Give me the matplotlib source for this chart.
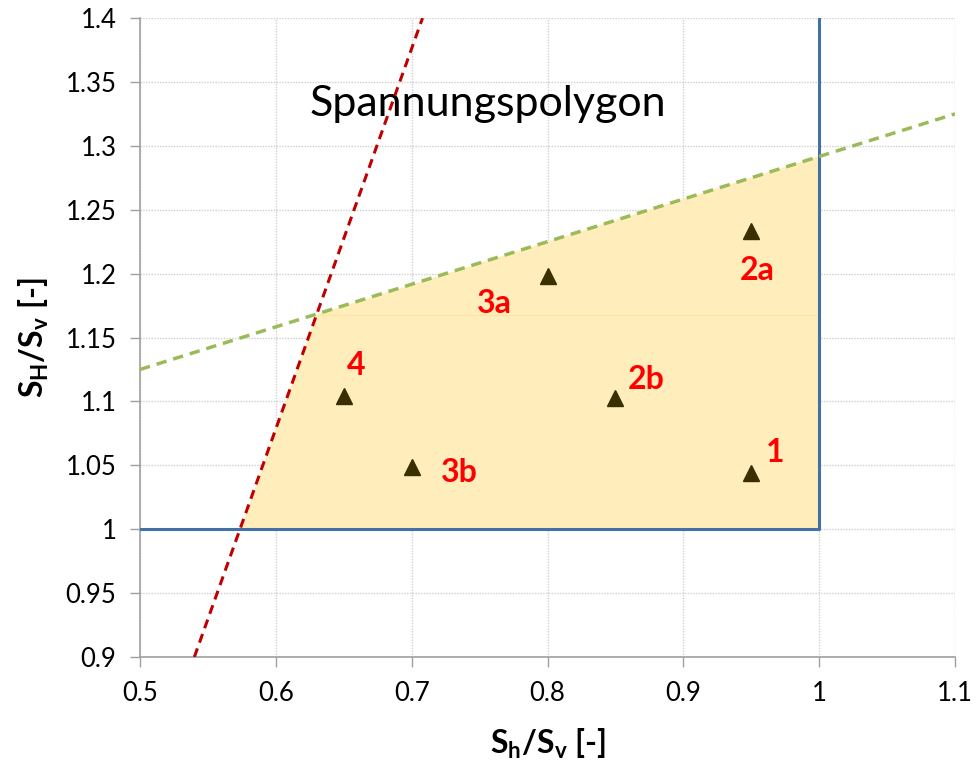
import matplotlib
matplotlib.use("Agg")
import matplotlib.pyplot as plt

plt.rcParams['font.family'] = ['Lato', 'DejaVu Sans']
plt.rcParams['mathtext.fontset'] = 'custom'
plt.rcParams['mathtext.rm'] = 'Lato:bold'
plt.rcParams['mathtext.default'] = 'rm'

# measured states (Sh/Sv, SH/Sv)
point_names = ["1", "2a", "2b", "3a", "3b", "4"]
point_sh = [0.95, 0.95, 0.85, 0.80, 0.70, 0.65]
point_sH = [1.044, 1.233, 1.103, 1.198, 1.049, 1.104]

# frictional limits
red_x = [0.540, 0.708]
red_y = [0.900, 1.400]
green_x = [0.5, 1.1]
green_y = [1.125, 1.325]

# SH >= Sv and Sh <= Sv boundaries
blue_x = [0.5, 1.0, 1.0]
blue_y = [1.0, 1.0, 1.4]

# allowed region
poly_x = [0.574, 1.0, 1.0, 0.630]
poly_y = [1.000, 1.000, 1.292, 1.168]

x_ticks = [0.5, 0.6, 0.7, 0.8, 0.9, 1.0, 1.1]
x_ticklabels = ["0.5", "0.6", "0.7", "0.8", "0.9", "1", "1.1"]
y_ticks = [0.9, 0.95, 1.0, 1.05, 1.1, 1.15, 1.2, 1.25, 1.3, 1.35, 1.4]
y_ticklabels = ["0.9", "0.95", "1", "1.05", "1.1", "1.15", "1.2", "1.25", "1.3", "1.35", "1.4"]

# label offsets in points (dx, dy)
label_offsets = {"1": (17, 15), "2a": (4, -28), "2b": (22, 13), "3a": (-38, -20),
                 "3b": (34, -4), "4": (9, 22)}

fig = plt.figure(figsize=(9.79, 7.67), dpi=100)
ax = fig.add_axes([0.143, 0.1434, 0.8325, 0.8331])

ax.fill(poly_x, poly_y, color='#FFEDBB', lw=0, zorder=1)
ax.plot([poly_x[3], poly_x[2]], [poly_y[3], poly_y[3]], color='#FFE6A0', lw=0.8, zorder=1.5)
ax.plot(blue_x, blue_y, color='#4470A8', lw=2.2, zorder=3)
ax.plot(red_x, red_y, color='#C00000', lw=2.2, ls=(0, (3, 2)), zorder=4)
ax.plot(green_x, green_y, color='#9BBB59', lw=2.5, ls=(0, (3, 2)), zorder=4)

ax.plot(point_sh, point_sH, ls='none', marker='^', ms=11, color='#3A2F00', zorder=5)
for name, xs, ys in zip(point_names, point_sh, point_sH):
    ax.annotate(name, (xs, ys), xytext=label_offsets[name], textcoords='offset points',
                ha='center', va='center', color='#FF0000', fontsize=23, fontweight='bold', zorder=6)

ax.text(0.756, 1.333, "Spannungspolygon", ha='center', va='center', fontsize=31, color='black')

ax.set_xlim(0.5, 1.1)
ax.set_ylim(0.9, 1.4)
ax.set_xticks(x_ticks)
ax.set_xticklabels(x_ticklabels)
ax.set_yticks(y_ticks)
ax.set_yticklabels(y_ticklabels)
ax.tick_params(axis='both', labelsize=18.5, colors='#A0A0A0', labelcolor='black', length=7, width=1)
ax.tick_params(axis='x', pad=10)
ax.tick_params(axis='y', pad=10)

ax.grid(True, color='#D0D0D0', ls=(0, (1, 1)), lw=1, zorder=0)
ax.set_axisbelow(True)
for side in ['top', 'right']:
    ax.spines[side].set_visible(False)
for side in ['left', 'bottom']:
    ax.spines[side].set_color('#A0A0A0')
    ax.spines[side].set_linewidth(1.2)

ax.set_xlabel("S$_{h}$/S$_{v}$ [-]", fontsize=23, fontweight='bold', labelpad=15)
ax.set_ylabel("S$_{H}$/S$_{v}$ [-]", fontsize=23, fontweight='bold', labelpad=10)

fig.savefig("out.png", dpi=100)
